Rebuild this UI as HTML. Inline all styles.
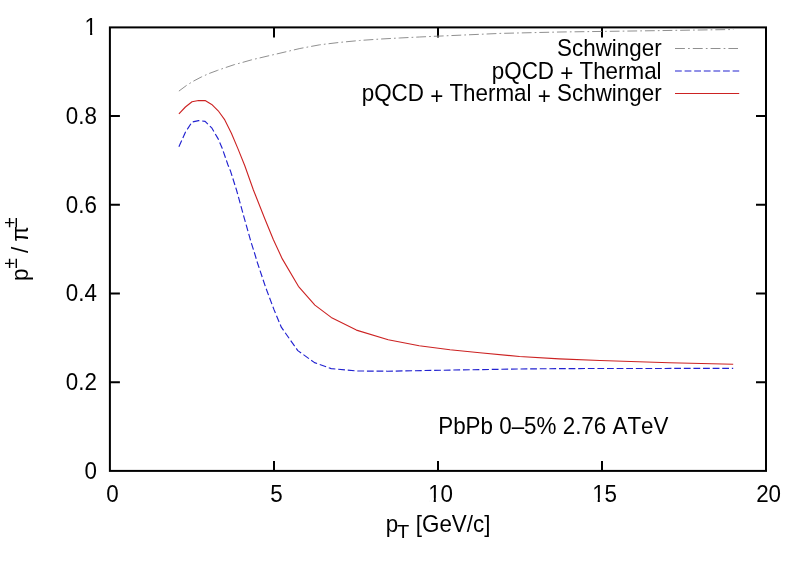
<!DOCTYPE html>
<html lang="en"><head><meta charset="utf-8"><title>plot</title>
<style>
html,body{margin:0;padding:0;background:#fff;}
body{width:805px;height:565px;overflow:hidden;}
svg{display:block;will-change:transform;}
text{font-family:"Liberation Sans",sans-serif;font-size:22.60px;fill:#000;font-kerning:none;font-variant-ligatures:none;}
</style></head>
<body>
<svg width="805" height="565" viewBox="0 0 805 565">
<rect width="805" height="565" fill="#ffffff"/>
<g stroke="#000" stroke-width="2" fill="none">
<path d="M109.9 382.20h10.0 M766.0 382.20h-10.0"/>
<path d="M109.9 293.50h10.0 M766.0 293.50h-10.0"/>
<path d="M109.9 204.80h10.0 M766.0 204.80h-10.0"/>
<path d="M109.9 116.10h10.0 M766.0 116.10h-10.0"/>
<path d="M274.00 470.9v-10.0 M274.00 27.4v10.0"/>
<path d="M438.00 470.9v-10.0 M438.00 27.4v10.0"/>
<path d="M602.00 470.9v-10.0 M602.00 27.4v10.0"/>
<rect x="109.9" y="27.4" width="656.1" height="443.5"/>
</g>
<text transform="translate(97.00 478.80) scale(0.9910 1.0700)" text-anchor="end">0</text>
<text transform="translate(97.00 390.10) scale(0.9910 1.0700)" text-anchor="end">0.2</text>
<text transform="translate(97.00 301.40) scale(0.9910 1.0700)" text-anchor="end">0.4</text>
<text transform="translate(97.00 212.70) scale(0.9910 1.0700)" text-anchor="end">0.6</text>
<text transform="translate(97.00 124.00) scale(0.9910 1.0700)" text-anchor="end">0.8</text>
<text transform="translate(97.00 35.30) scale(0.9910 1.0700)" text-anchor="end">1</text>
<text transform="translate(112.60 501.50) scale(0.9910 1.0700)" text-anchor="middle">0</text>
<text transform="translate(276.60 501.50) scale(0.9910 1.0700)" text-anchor="middle">5</text>
<text transform="translate(440.60 501.50) scale(0.9910 1.0700)" text-anchor="middle">10</text>
<text transform="translate(604.60 501.50) scale(0.9910 1.0700)" text-anchor="middle">15</text>
<text transform="translate(768.60 501.50) scale(0.9910 1.0700)" text-anchor="middle">20</text>
<rect x="85.86" y="31.88" width="4.23" height="4.22" fill="#fff"/>
<rect x="92.24" y="31.88" width="4.11" height="4.22" fill="#fff"/>
<rect x="429.46" y="498.08" width="4.23" height="4.22" fill="#fff"/>
<rect x="435.84" y="498.08" width="4.11" height="4.22" fill="#fff"/>
<rect x="593.46" y="498.08" width="4.23" height="4.22" fill="#fff"/>
<rect x="599.84" y="498.08" width="4.11" height="4.22" fill="#fff"/>
<polyline points="178.9,91.1 186.4,85.5 193.1,81.3 201.3,77.0 209.1,73.5 217.7,70.3 225.5,67.6 234.4,64.6 242.6,62.4 251.7,59.8 259.9,57.9 269.1,55.7 277.0,53.9 286.3,51.7 299.9,48.5 319.8,44.8 339.6,42.4 359.5,40.5 379.4,39.1 399.3,38.0 419.2,37.0 437.0,36.2 480.0,34.3 500.0,33.4 560.0,32.0 640.0,30.9 733.3,29.5" fill="none" stroke="#909090" stroke-width="1" stroke-dasharray="9.8 3.1 1.7 3.0" stroke-linejoin="round"/>
<polyline points="178.9,146.7 185.4,132.3 192.0,122.0 198.6,120.6 205.1,121.4 211.7,127.8 218.2,138.9 222.2,148.2 227.9,164.8 230.6,171.3 236.5,190.0 243.9,216.8 251.0,242.0 254.3,252.3 257.5,263.0 265.8,287.8 273.9,309.4 281.3,327.2 297.8,350.6 314.5,362.6 331.2,368.6 356.6,371.0 387.4,371.2 450.0,370.1 519.5,369.0 560.0,368.6 600.0,368.5 733.2,368.4" fill="none" stroke="#2222d0" stroke-width="1.15" stroke-dasharray="6.78 2.824" stroke-linejoin="round"/>
<polyline points="178.9,113.9 185.4,107.0 192.0,101.7 198.6,100.5 205.1,100.6 211.7,104.4 218.2,110.8 224.8,119.9 231.4,133.2 237.9,148.6 244.8,165.8 253.4,190.0 255.7,195.7 264.8,218.8 273.3,239.5 282.3,258.9 298.4,286.3 314.9,305.1 331.2,317.4 356.4,330.1 388.2,339.7 419.2,345.7 450.0,349.7 479.8,352.7 519.5,356.5 559.3,358.9 600.0,360.5 669.5,362.7 733.2,364.3" fill="none" stroke="#cc2222" stroke-width="1.1" stroke-linejoin="round"/>
<text transform="translate(661.60 55.70) scale(0.9910 1.0700)" text-anchor="end">Schwinger</text>
<text transform="translate(661.60 78.70) scale(0.9910 1.0700)" text-anchor="end">pQCD <tspan dy="2.4">+</tspan><tspan dy="-2.4"> Thermal</tspan></text>
<text transform="translate(661.60 101.00) scale(0.9910 1.0700)" text-anchor="end">pQCD <tspan dy="2.4">+</tspan><tspan dy="-2.4"> Thermal </tspan><tspan dy="2.4">+</tspan><tspan dy="-2.4"> Schwinger</tspan></text>
<path d="M675 48.5H738" fill="none" stroke="#909090" stroke-width="1" stroke-dasharray="9.9 3.15 1.7 3.05" stroke-linejoin="round"/>
<path d="M675 71H739.2" fill="none" stroke="#2222d0" stroke-width="1.15" stroke-dasharray="6.78 2.824" stroke-linejoin="round"/>
<path d="M675 93.5H739.2" fill="none" stroke="#cc2222" stroke-width="1.1"/>
<text transform="translate(438.20 433.70) scale(0.9910 1.0700)" text-anchor="start">PbPb 0<tspan dy="0.7">–</tspan><tspan dy="-0.7">5% 2.76 ATeV</tspan></text>
<text transform="translate(385.80 531.80) scale(0.9910 1.0700)" text-anchor="start">p</text>
<text transform="translate(396.95 538.40) scale(1.2000 1.0700)" text-anchor="start"><tspan font-size="16.7px">T</tspan></text>
<text transform="translate(490.40 531.80) scale(0.9910 1.0700)" text-anchor="end">[GeV/c]</text>
<text transform="translate(27.80 281.00) rotate(-90) scale(0.9910 1.0300)" text-anchor="start">p<tspan font-size="19px" dy="-10.15">±</tspan><tspan dy="10.15" dx="-0.9"> / </tspan><tspan dx="-1.0">π</tspan><tspan font-size="19px" dy="-10.15" dx="-1.9">±</tspan></text>
</svg>
</body></html>
